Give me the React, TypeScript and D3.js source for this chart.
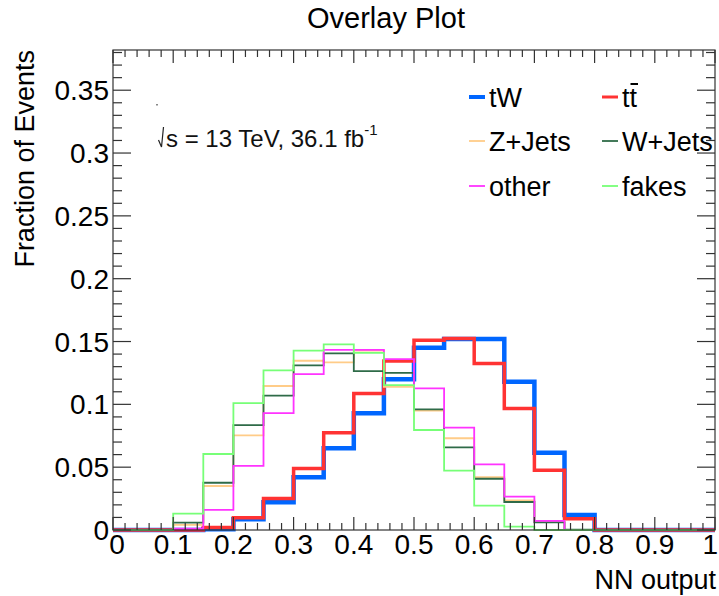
import React from "react";
import * as d3 from "d3";

const binEdges = [0, 0.05, 0.1, 0.15, 0.2, 0.25, 0.3, 0.35, 0.4, 0.45, 0.5, 0.55, 0.6, 0.65, 0.7, 0.75, 0.8, 0.85, 0.9, 0.95, 1.0];

const tW = [0, 0, 0, 0.0005, 0.0085, 0.022, 0.042, 0.065, 0.093, 0.12, 0.145, 0.152, 0.152, 0.118, 0.0615, 0.012, 0, 0, 0, 0];
const ttbar = [0, 0, 0, 0.002, 0.0098, 0.025, 0.049, 0.0774, 0.1087, 0.1345, 0.1511, 0.1525, 0.1326, 0.0966, 0.0475, 0.009, 0, 0, 0, 0];
const zjets = [0, 0, 0.004, 0.035, 0.0753, 0.1146, 0.1347, 0.1334, 0.1427, 0.114, 0.095, 0.073, 0.042, 0.0236, 0.0066, 0, 0, 0, 0, 0];
const wjets = [0, 0, 0.0058, 0.0376, 0.0835, 0.107, 0.131, 0.1405, 0.1265, 0.125, 0.096, 0.0658, 0.0408, 0.0223, 0.006, 0.0003, 0, 0, 0, 0];
const other = [0, 0, 0.001, 0.016, 0.051, 0.093, 0.124, 0.1434, 0.1434, 0.136, 0.1127, 0.0814, 0.0522, 0.0265, 0.0072, 0, 0, 0, 0, 0];
const fakes = [0, 0, 0.013, 0.0605, 0.101, 0.127, 0.1427, 0.1477, 0.141, 0.1153, 0.0796, 0.0472, 0.0194, 0.0027, 0, 0, 0, 0, 0, 0];

const seriesNames = ["tW", "ttbar", "Z+Jets", "W+Jets", "other", "fakes"];
const seriesValues = [tW, ttbar, zjets, wjets, other, fakes];
const seriesColors = ["#0066ff", "#ff3333", "#ffcc88", "#2f6b48", "#ff33ff", "#77ff77"];
const seriesWidths = [4.5, 3.5, 1.8, 1.8, 1.8, 1.8];

const xTickValues = [0, 0.1, 0.2, 0.3, 0.4, 0.5, 0.6, 0.7, 0.8, 0.9, 1];
const xTickLabels = ["0", "0.1", "0.2", "0.3", "0.4", "0.5", "0.6", "0.7", "0.8", "0.9", "1"];
const yTickValues = [0, 0.05, 0.1, 0.15, 0.2, 0.25, 0.3, 0.35];
const yTickLabels = ["0", "0.05", "0.1", "0.15", "0.2", "0.25", "0.3", "0.35"];

const W = 719;
const H = 596;
const L = 113, R = 715, T = 50, B = 530;
const FONT = "'Liberation Sans', Arial, Helvetica, sans-serif";

export default function App() {
  const x = d3.scaleLinear().domain([0, 1]).range([L, R]);
  const y = d3.scaleLinear().domain([0, 0.382]).range([B, T]);

  const line = d3
    .line<[number, number]>()
    .x((d) => x(d[0]))
    .y((d) => y(d[1]))
    .curve(d3.curveStepAfter);

  const paths = seriesValues.map((vals) => {
    const pts: [number, number][] = vals.map((v, i) => [binEdges[i], v]);
    pts.push([binEdges[binEdges.length - 1], vals[vals.length - 1]]);
    return line(pts) || "";
  });

  const xMinor = d3.range(0, 1.0001, 0.02);
  const yMinor = d3.range(0, 0.3801, 0.01);

  const legendRows = [
    [0, 1],
    [2, 3],
    [4, 5],
  ];
  const legendCols = [469, 602];
  const legendBase = [107, 151, 196];

  return (
    <div style={{ position: "fixed", left: 0, top: 0 }}>
      <svg width={W} height={H} style={{ display: "block", background: "#fff" }}>
        <rect x={0} y={0} width={W} height={H} fill="#fff" />
        {/* histograms */}
        <g fill="none">
          {paths.map((p, i) => (
            <path key={i} d={p} stroke={seriesColors[i]} strokeWidth={seriesWidths[i]} strokeLinejoin="miter" />
          ))}
        </g>
        {/* frame */}
        <rect x={L} y={T} width={R - L} height={B - T} fill="none" stroke="#333" strokeWidth={1.2} />
        {/* x ticks */}
        <g stroke="#333" strokeWidth={1.2}>
          {xMinor.map((v, i) => {
            const major = i % 5 === 0;
            const len = major ? 13 : 7;
            return (
              <g key={i}>
                <line x1={x(v)} x2={x(v)} y1={B} y2={B - len} />
                <line x1={x(v)} x2={x(v)} y1={T} y2={T + len} />
              </g>
            );
          })}
          {yMinor.map((v, i) => {
            const major = i % 5 === 0;
            const len = major ? 18 : 9;
            return (
              <g key={i}>
                <line x1={L} x2={L + len} y1={y(v)} y2={y(v)} />
                <line x1={R} x2={R - len} y1={y(v)} y2={y(v)} />
              </g>
            );
          })}
        </g>
        {/* tick labels */}
        <g fontFamily={FONT} fontSize={28} fill="#000">
          {xTickValues.map((v, i) => {
            const last = i === xTickValues.length - 1;
            return (
              <text
                key={i}
                x={last ? 718 : x(v) + (i === 0 ? 4 : 0)}
                y={554}
                textAnchor={last ? "end" : "middle"}
              >
                {xTickLabels[i]}
              </text>
            );
          })}
          {yTickValues.map((v, i) => (
            <text key={i} x={109} y={y(v) + 10} textAnchor="end">
              {yTickLabels[i]}
            </text>
          ))}
        </g>
        {/* axis titles */}
        <text x={716} y={589} textAnchor="end" fontFamily={FONT} fontSize={27}>
          NN output
        </text>
        <text
          transform="translate(34,50) rotate(-90)"
          textAnchor="end"
          fontFamily={FONT}
          fontSize={27}
        >
          Fraction of Events
        </text>
        {/* title */}
        <text x={386} y={28} textAnchor="middle" fontFamily={FONT} fontSize={29}>
          Overlay Plot
        </text>
        {/* annotation */}
        <path d="M158.5,140 L161.5,147 L163.5,127" fill="none" stroke="#222" strokeWidth={1.2} />
        <rect x={156} y={104} width={2} height={1.5} fill="#888" />
        <text x={166} y={147} fontFamily={FONT} fontSize={24} fill="#111">
          s = 13 TeV, 36.1 fb
          <tspan fontSize={15} dy={-12}>-1</tspan>
        </text>
        {/* legend */}
        {legendRows.map((row, r) =>
          row.map((si, c) => {
            const lx = legendCols[c];
            const by = legendBase[r];
            return (
              <g key={`${r}-${c}`}>
                <line
                  x1={lx}
                  x2={lx + 16}
                  y1={by - 10}
                  y2={by - 10}
                  stroke={seriesColors[si]}
                  strokeWidth={si === 0 ? 4 : si === 1 ? 3 : 1.8}
                />
                {si === 1 ? (
                  <g>
                    <text x={lx + 20} y={by} fontFamily={FONT} fontSize={27}>
                      tt
                    </text>
                    <line x1={lx + 28.5} x2={lx + 36} y1={by - 23} y2={by - 23} stroke="#000" strokeWidth={2} />
                  </g>
                ) : (
                  <text x={lx + 20} y={by} fontFamily={FONT} fontSize={27}>
                    {seriesNames[si]}
                  </text>
                )}
              </g>
            );
          })
        )}
      </svg>
    </div>
  );
}
